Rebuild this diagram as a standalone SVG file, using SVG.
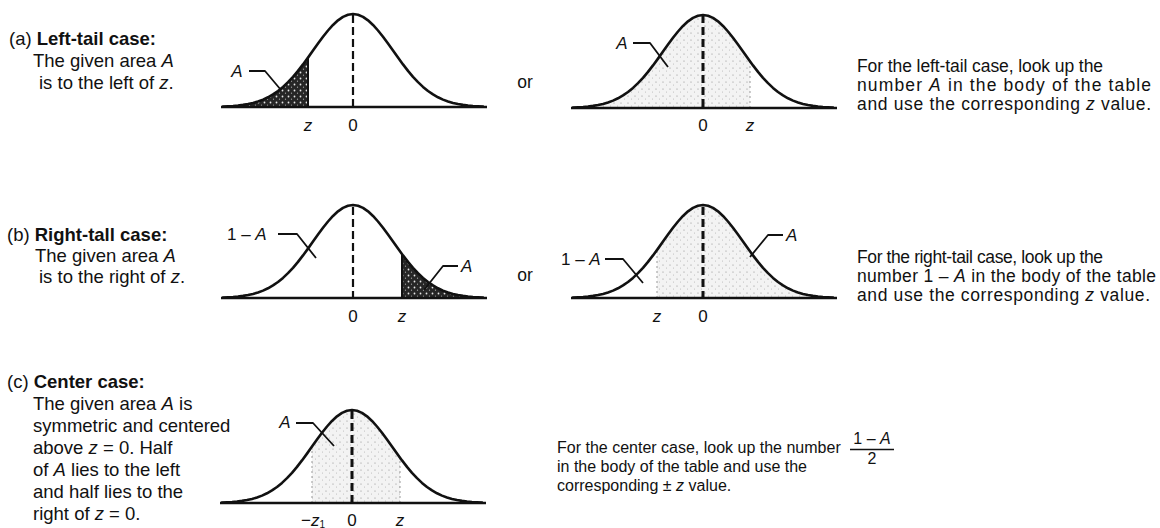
<svg xmlns="http://www.w3.org/2000/svg" xmlns:xlink="http://www.w3.org/1999/xlink" width="1160" height="528" viewBox="0 0 1160 528">
<style>
text{font-family:"Liberation Sans",Arial,Helvetica,sans-serif;fill:#111;}
.l{font-size:18.5px;}
.r{font-size:17.5px;}
.rc{font-size:16px;}
.ax{font-size:17px;text-anchor:middle;}
.lab{font-size:17px;}
.b{font-weight:bold;}
.i{font-style:italic;}
.curve{fill:none;stroke:#111;stroke-width:2.6;stroke-linejoin:round;stroke-linecap:round;}
.base{stroke:#111;stroke-width:2.6;}
.dash{stroke:#111;stroke-width:2.2;stroke-dasharray:8 4;}
.dash3{stroke:#111;stroke-width:3;stroke-dasharray:8 4;}
.edge{stroke:#111;stroke-width:2;}
.faint{stroke:#999;stroke-width:1;stroke-dasharray:2 3;}
.lead{fill:none;stroke:#111;stroke-width:1.8;stroke-linejoin:round;}
</style>
<defs>
<path id="bell" d="M-130,-0.47 L-125,-0.7 L-120,-1.03 L-115,-1.49 L-110,-2.12 L-105,-2.97 L-100,-4.09 L-95,-5.54 L-90,-7.4 L-85,-9.73 L-80,-12.59 L-75,-16.04 L-70,-20.11 L-65,-24.84 L-60,-30.19 L-55,-36.14 L-50,-42.58 L-45,-49.39 L-40,-56.41 L-35,-63.42 L-30,-70.2 L-25,-76.5 L-20,-82.07 L-15,-86.69 L-10,-90.14 L-5,-92.28 L0,-93 L5,-92.28 L10,-90.14 L15,-86.69 L20,-82.07 L25,-76.5 L30,-70.2 L35,-63.42 L40,-56.41 L45,-49.39 L50,-42.58 L55,-36.14 L60,-30.19 L65,-24.84 L70,-20.11 L75,-16.04 L80,-12.59 L85,-9.73 L90,-7.4 L95,-5.54 L100,-4.09 L105,-2.97 L110,-2.12 L115,-1.49 L120,-1.03 L125,-0.7 L130,-0.47"/>
<path id="area" d="M-130,-0.47 L-125,-0.7 L-120,-1.03 L-115,-1.49 L-110,-2.12 L-105,-2.97 L-100,-4.09 L-95,-5.54 L-90,-7.4 L-85,-9.73 L-80,-12.59 L-75,-16.04 L-70,-20.11 L-65,-24.84 L-60,-30.19 L-55,-36.14 L-50,-42.58 L-45,-49.39 L-40,-56.41 L-35,-63.42 L-30,-70.2 L-25,-76.5 L-20,-82.07 L-15,-86.69 L-10,-90.14 L-5,-92.28 L0,-93 L5,-92.28 L10,-90.14 L15,-86.69 L20,-82.07 L25,-76.5 L30,-70.2 L35,-63.42 L40,-56.41 L45,-49.39 L50,-42.58 L55,-36.14 L60,-30.19 L65,-24.84 L70,-20.11 L75,-16.04 L80,-12.59 L85,-9.73 L90,-7.4 L95,-5.54 L100,-4.09 L105,-2.97 L110,-2.12 L115,-1.49 L120,-1.03 L125,-0.7 L130,-0.47 L130,0 L-130,0 Z"/>
<pattern id="dark" width="6" height="6" patternUnits="userSpaceOnUse">
<rect width="6" height="6" fill="#262626"/>
<circle cx="1.5" cy="1.5" r="0.9" fill="#e6e6e6"/>
<circle cx="4.5" cy="4.2" r="0.6" fill="#aaa"/>
</pattern>
<pattern id="light" width="7" height="7" patternUnits="userSpaceOnUse">
<rect width="7" height="7" fill="#f3f3f3"/>
<circle cx="2" cy="2" r="0.6" fill="#8a8a8a"/>
<circle cx="5.5" cy="5" r="0.5" fill="#b0b0b0"/>
</pattern>
<clipPath id="clipA1"><rect x="215" y="0" width="93" height="120"/></clipPath>
<clipPath id="clipA2"><rect x="565" y="0" width="185" height="120"/></clipPath>
<clipPath id="clipB1"><rect x="402" y="190" width="95" height="120"/></clipPath>
<clipPath id="clipB2"><rect x="657" y="190" width="185" height="120"/></clipPath>
<clipPath id="clipC1"><rect x="312" y="400" width="88" height="110"/></clipPath>
</defs>

<g id="text-a-left">
<text class="l" x="9" y="45">(a) <tspan class="b">Left-tail case:</tspan></text>
<text class="l" x="33" y="67">The given area <tspan class="i">A</tspan></text>
<text class="l" x="39" y="89">is to the left of <tspan class="i">z</tspan>.</text>
</g>

<g id="curve-a1">
<g clip-path="url(#clipA1)"><use xlink:href="#area" transform="translate(353,107)" fill="url(#dark)"/></g>
<line class="edge" x1="308" y1="107" x2="308" y2="57.5"/>
<line class="dash" x1="353" y1="15" x2="353" y2="107"/>
<use xlink:href="#bell" class="curve" transform="translate(353,107)"/>
<line class="base" x1="221" y1="107" x2="487" y2="107"/>
<text class="ax i" x="308" y="131">z</text>
<text class="ax" x="353" y="131">0</text>
<text class="lab i" x="237" y="77" text-anchor="middle">A</text>
</g>

<g id="or-a"><text class="r" x="525" y="88" text-anchor="middle">or</text></g>

<g id="curve-a2">
<g clip-path="url(#clipA2)"><use xlink:href="#area" transform="translate(703,108)" fill="url(#light)"/></g>
<line class="faint" x1="750" y1="108" x2="750" y2="62"/>
<line class="dash3" x1="703" y1="15" x2="703" y2="108"/>
<use xlink:href="#bell" class="curve" transform="translate(703,108)"/>
<line class="base" x1="571" y1="108" x2="837" y2="108"/>
<text class="ax" x="703" y="131">0</text>
<text class="ax i" x="750" y="131">z</text>
<text class="lab i" x="622" y="49" text-anchor="middle">A</text>
</g>

<g id="text-a-right">
<text class="r" x="857" y="72" textLength="246" lengthAdjust="spacing">For the left-tail case, look up the</text>
<text class="r" x="857" y="91" textLength="294" lengthAdjust="spacing">number <tspan class="i">A</tspan> in the body of the table</text>
<text class="r" x="857" y="110" textLength="294" lengthAdjust="spacing">and use the corresponding <tspan class="i">z</tspan> value.</text>
</g>

<g id="text-b-left">
<text class="l" x="7" y="241">(b) <tspan class="b">Right-tall case:</tspan></text>
<text class="l" x="35" y="262">The given area <tspan class="i">A</tspan></text>
<text class="l" x="39" y="283">is to the right of <tspan class="i">z</tspan>.</text>
</g>

<g id="curve-b1">
<g clip-path="url(#clipB1)"><use xlink:href="#area" transform="translate(353,298)" fill="url(#dark)"/></g>
<line class="edge" x1="402" y1="298" x2="402" y2="254"/>
<line class="dash" x1="353" y1="207" x2="353" y2="298"/>
<use xlink:href="#bell" class="curve" transform="translate(353,298)"/>
<line class="base" x1="221" y1="298" x2="487" y2="298"/>
<text class="ax" x="353" y="322">0</text>
<text class="ax i" x="402" y="322">z</text>
<text class="lab" x="227" y="240">1 – <tspan class="i">A</tspan></text>
<text class="lab i" x="461" y="272">A</text>
</g>

<g id="or-b"><text class="r" x="525" y="281" text-anchor="middle">or</text></g>

<g id="curve-b2">
<g clip-path="url(#clipB2)"><use xlink:href="#area" transform="translate(703,298)" fill="url(#light)"/></g>
<line class="faint" x1="657" y1="298" x2="657" y2="250"/>
<line class="dash3" x1="703" y1="207" x2="703" y2="298"/>
<use xlink:href="#bell" class="curve" transform="translate(703,298)"/>
<line class="base" x1="571" y1="298" x2="837" y2="298"/>
<text class="ax i" x="657" y="322">z</text>
<text class="ax" x="703" y="322">0</text>
<text class="lab" x="561" y="265">1 – <tspan class="i">A</tspan></text>
<text class="lab i" x="786" y="241">A</text>
</g>

<g id="text-b-right">
<text class="r" x="857" y="263" textLength="246" lengthAdjust="spacing">For the right-tail case, look up the</text>
<text class="r" x="857" y="282" textLength="299" lengthAdjust="spacing">number 1 – <tspan class="i">A</tspan> in the body of the table</text>
<text class="r" x="857" y="301" textLength="293" lengthAdjust="spacing">and use the corresponding <tspan class="i">z</tspan> value.</text>
</g>

<g id="text-c-left">
<text class="l" x="7" y="388">(c) <tspan class="b">Center case:</tspan></text>
<text class="l" x="33" y="410">The given area <tspan class="i">A</tspan> is</text>
<text class="l" x="33" y="432">symmetric and centered</text>
<text class="l" x="33" y="454">above <tspan class="i">z</tspan> = 0. Half</text>
<text class="l" x="33" y="476">of <tspan class="i">A</tspan> lies to the left</text>
<text class="l" x="33" y="498">and half lies to the</text>
<text class="l" x="33" y="520">right of <tspan class="i">z</tspan> = 0.</text>
</g>

<g id="curve-c1">
<g clip-path="url(#clipC1)"><use xlink:href="#area" transform="translate(352,503)" fill="url(#light)"/></g>
<line class="faint" x1="312" y1="503" x2="312" y2="447"/>
<line class="faint" x1="400" y1="503" x2="400" y2="457"/>
<line class="dash3" x1="352" y1="411" x2="352" y2="503"/>
<use xlink:href="#bell" class="curve" transform="translate(352,503)"/>
<line class="base" x1="220" y1="503" x2="486" y2="503"/>
<text class="ax" x="313" y="526">−<tspan class="i">z</tspan><tspan font-size="10" dy="2">1</tspan></text>
<text class="ax" x="352" y="526">0</text>
<text class="ax i" x="400" y="526">z</text>
<text class="lab i" x="285" y="428" text-anchor="middle">A</text>
</g>

<g id="text-c-right">
<text class="rc" x="557" y="453">For the center case, look up the number</text>
<text class="rc" x="557" y="472">in the body of the table and use the</text>
<text class="rc" x="557" y="491">corresponding ± <tspan class="i">z</tspan> value.</text>
<text class="rc" x="872" y="444" text-anchor="middle">1 – <tspan class="i">A</tspan></text>
<line x1="850" y1="449.5" x2="894" y2="449.5" stroke="#111" stroke-width="1.3"/>
<text class="rc" x="872" y="464" text-anchor="middle">2</text>
</g>

<g id="connectors">
<path class="lead" d="M249,71 H265 L281,90"/>
<path class="lead" d="M633,43 H650 L668,67"/>
<path class="lead" d="M278,234 H297 L316,258"/>
<path class="lead" d="M458,266 H443 L424,290"/>
<path class="lead" d="M605,259 H623 L643,283"/>
<path class="lead" d="M783,235 H768 L750,257"/>
<path class="lead" d="M296,423 H313 L334,446"/>
</g>
</svg>
